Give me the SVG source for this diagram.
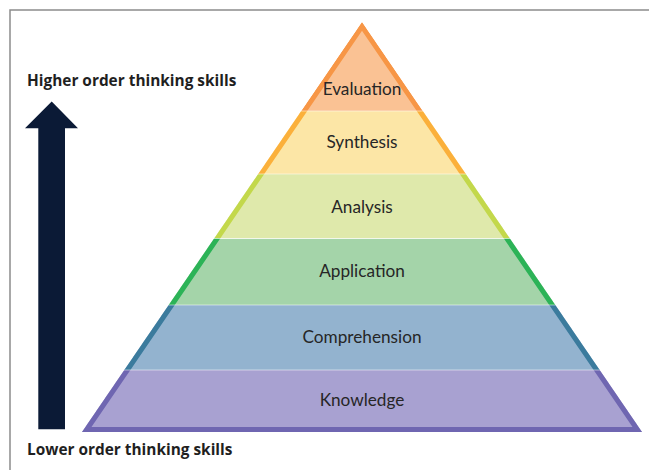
<svg xmlns="http://www.w3.org/2000/svg" xmlns:xlink="http://www.w3.org/1999/xlink" width="649" height="470" viewBox="0 0 649 470">
<style>
.lbl{font-family:Lato,"Liberation Sans",sans-serif;font-size:17.2px;fill:#262626;text-anchor:middle}
.side{font-family:"Open Sans","Liberation Sans",sans-serif;font-size:15.4px;font-weight:bold;fill:#1f1f1f}
.tri{fill:none;stroke-width:10;stroke-linejoin:miter}
.sep{stroke:#ffffff;stroke-opacity:0.5;stroke-width:1}
</style>
<defs>
<path id="tri" d="M362,22 L642,432 L82,432 Z"/>
<clipPath id="c1"><path d="M362,22 L422.8,111 L301.2,111 Z"/></clipPath>
<clipPath id="c2"><rect x="0" y="111" width="649" height="63"/></clipPath>
<clipPath id="c3"><rect x="0" y="174" width="649" height="64.5"/></clipPath>
<clipPath id="c4"><rect x="0" y="238.5" width="649" height="66.5"/></clipPath>
<clipPath id="c5"><rect x="0" y="305" width="649" height="65"/></clipPath>
<clipPath id="c6"><rect x="0" y="370" width="649" height="62"/></clipPath>
<clipPath id="ctri"><use xlink:href="#tri"/></clipPath>
</defs>
<g id="frame" stroke="#8c8c8c" stroke-width="1.5" fill="none">
<path d="M10,470 L10,10 L649,10"/>
</g>
<g id="pyramid" clip-path="url(#ctri)">
<g id="evaluation" clip-path="url(#c1)">
<rect x="0" y="0" width="649" height="111" fill="#fac294"/>
<use xlink:href="#tri" class="tri" stroke="#f79646"/>
</g>
<g id="synthesis" clip-path="url(#c2)">
<rect x="0" y="111" width="649" height="63" fill="#fce6a6"/>
<use xlink:href="#tri" class="tri" stroke="#fbb03b"/>
</g>
<g id="analysis" clip-path="url(#c3)">
<rect x="0" y="174" width="649" height="64.5" fill="#dfe9ab"/>
<use xlink:href="#tri" class="tri" stroke="#c3d84b"/>
</g>
<g id="application" clip-path="url(#c4)">
<rect x="0" y="238.5" width="649" height="66.5" fill="#a4d4a9"/>
<use xlink:href="#tri" class="tri" stroke="#2cb357"/>
</g>
<g id="comprehension" clip-path="url(#c5)">
<rect x="0" y="305" width="649" height="65" fill="#93b3cf"/>
<use xlink:href="#tri" class="tri" stroke="#3b7b9d"/>
</g>
<g id="knowledge" clip-path="url(#c6)">
<rect x="0" y="370" width="649" height="62" fill="#a8a1d1"/>
<use xlink:href="#tri" class="tri" stroke="#6f66b1"/>
</g>
<g class="sep">
<line x1="0" y1="111" x2="649" y2="111"/>
<line x1="0" y1="174" x2="649" y2="174"/>
<line x1="0" y1="238.5" x2="649" y2="238.5"/>
<line x1="0" y1="305" x2="649" y2="305"/>
<line x1="0" y1="370" x2="649" y2="370"/>
</g>
</g>
<g id="labels">
<text class="lbl" x="362" y="95">Evaluation</text>
<text class="lbl" x="362" y="148">Synthesis</text>
<text class="lbl" x="362" y="213">Analysis</text>
<text class="lbl" x="362" y="277">Application</text>
<text class="lbl" x="362" y="343">Comprehension</text>
<text class="lbl" x="362" y="406">Knowledge</text>
</g>
<g id="arrow">
<path d="M51.7,101.5 L78,128.3 L65,128.3 L65,429.3 L38.3,429.3 L38.3,128.3 L25,128.3 Z" fill="#0b1a36"/>
</g>
<g id="side-labels">
<text class="side" x="27" y="86">Higher order thinking skills</text>
<text class="side" x="27" y="455">Lower order thinking skills</text>
</g>
</svg>
